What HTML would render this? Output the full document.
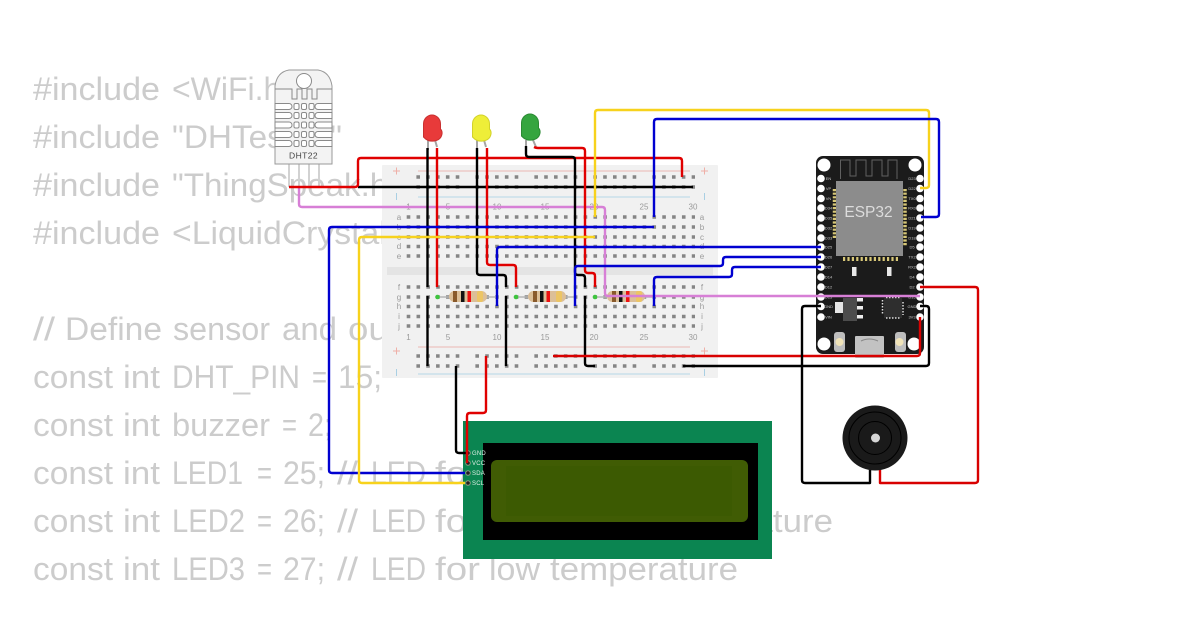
<!DOCTYPE html>
<html><head><meta charset="utf-8"><style>
html,body{margin:0;padding:0;background:#fff}
svg{display:block}
.c{font-family:"Liberation Sans",sans-serif;font-size:32px;fill:#cccccc}
.n{font-family:"Liberation Sans",sans-serif;font-size:8px;fill:#9a9a9a;text-anchor:middle}
.w{fill:none;stroke-width:2.4;stroke-linejoin:round}
.p{font-family:"Liberation Sans",sans-serif;font-size:4px;fill:#c8c8c8;text-anchor:middle}
</style></head><body>
<svg width="1200" height="630" viewBox="0 0 1200 630" xmlns="http://www.w3.org/2000/svg">
<rect width="1200" height="630" fill="#fff"/>
<g class="c" lengthAdjust="spacingAndGlyphs">
<text class="c" x="33" y="100" textLength="127" lengthAdjust="spacingAndGlyphs">#include</text><text class="c" x="172" y="100" textLength="128" lengthAdjust="spacingAndGlyphs">&lt;WiFi.h&gt;</text>
<text class="c" x="33" y="148" textLength="127" lengthAdjust="spacingAndGlyphs">#include</text><text class="c" x="172" y="148" textLength="170" lengthAdjust="spacingAndGlyphs">"DHTesp.h"</text>
<text class="c" x="33" y="196" textLength="127" lengthAdjust="spacingAndGlyphs">#include</text><text class="c" x="172" y="196" textLength="228" lengthAdjust="spacingAndGlyphs">"ThingSpeak.h"</text>
<text class="c" x="33" y="244" textLength="127" lengthAdjust="spacingAndGlyphs">#include</text><text class="c" x="172" y="244" textLength="334" lengthAdjust="spacingAndGlyphs">&lt;LiquidCrystal_I2C.h&gt;</text>
<text class="c" x="33" y="340" textLength="22" lengthAdjust="spacingAndGlyphs">//</text><text class="c" x="65" y="340" textLength="97" lengthAdjust="spacingAndGlyphs">Define</text><text class="c" x="173" y="340" textLength="97" lengthAdjust="spacingAndGlyphs">sensor</text><text class="c" x="282" y="340" textLength="55" lengthAdjust="spacingAndGlyphs">and</text><text class="c" x="348" y="340" textLength="102" lengthAdjust="spacingAndGlyphs">output</text><text class="c" x="460" y="340" textLength="65" lengthAdjust="spacingAndGlyphs">pins</text>
<text class="c" x="33" y="388" textLength="80" lengthAdjust="spacingAndGlyphs">const</text><text class="c" x="123" y="388" textLength="37" lengthAdjust="spacingAndGlyphs">int</text><text class="c" x="172" y="388" textLength="128" lengthAdjust="spacingAndGlyphs">DHT_PIN</text><text class="c" x="312" y="388" textLength="15" lengthAdjust="spacingAndGlyphs">=</text><text class="c" x="338" y="388" textLength="44" lengthAdjust="spacingAndGlyphs">15;</text>
<text class="c" x="33" y="436" textLength="80" lengthAdjust="spacingAndGlyphs">const</text><text class="c" x="123" y="436" textLength="37" lengthAdjust="spacingAndGlyphs">int</text><text class="c" x="172" y="436" textLength="98" lengthAdjust="spacingAndGlyphs">buzzer</text><text class="c" x="282" y="436" textLength="15" lengthAdjust="spacingAndGlyphs">=</text><text class="c" x="308" y="436" textLength="24" lengthAdjust="spacingAndGlyphs">2;</text>
<text class="c" x="33" y="484" textLength="80" lengthAdjust="spacingAndGlyphs">const</text><text class="c" x="123" y="484" textLength="37" lengthAdjust="spacingAndGlyphs">int</text><text class="c" x="172" y="484" textLength="71" lengthAdjust="spacingAndGlyphs">LED1</text><text class="c" x="257" y="484" textLength="15" lengthAdjust="spacingAndGlyphs">=</text><text class="c" x="283" y="484" textLength="42" lengthAdjust="spacingAndGlyphs">25;</text><text class="c" x="337" y="484" textLength="21" lengthAdjust="spacingAndGlyphs">//</text><text class="c" x="371" y="484" textLength="55" lengthAdjust="spacingAndGlyphs">LED</text><text class="c" x="435" y="484" textLength="45" lengthAdjust="spacingAndGlyphs">for</text><text class="c" x="489" y="484" textLength="60" lengthAdjust="spacingAndGlyphs">high</text><text class="c" x="558" y="484" textLength="188" lengthAdjust="spacingAndGlyphs">temperature</text>
<text class="c" x="33" y="532" textLength="80" lengthAdjust="spacingAndGlyphs">const</text><text class="c" x="123" y="532" textLength="37" lengthAdjust="spacingAndGlyphs">int</text><text class="c" x="172" y="532" textLength="73" lengthAdjust="spacingAndGlyphs">LED2</text><text class="c" x="257" y="532" textLength="15" lengthAdjust="spacingAndGlyphs">=</text><text class="c" x="283" y="532" textLength="42" lengthAdjust="spacingAndGlyphs">26;</text><text class="c" x="337" y="532" textLength="21" lengthAdjust="spacingAndGlyphs">//</text><text class="c" x="371" y="532" textLength="55" lengthAdjust="spacingAndGlyphs">LED</text><text class="c" x="435" y="532" textLength="45" lengthAdjust="spacingAndGlyphs">for</text><text class="c" x="489" y="532" textLength="146" lengthAdjust="spacingAndGlyphs">medium</text><text class="c" x="645" y="532" textLength="188" lengthAdjust="spacingAndGlyphs">temperature</text>
<text class="c" x="33" y="580" textLength="80" lengthAdjust="spacingAndGlyphs">const</text><text class="c" x="123" y="580" textLength="37" lengthAdjust="spacingAndGlyphs">int</text><text class="c" x="172" y="580" textLength="73" lengthAdjust="spacingAndGlyphs">LED3</text><text class="c" x="257" y="580" textLength="15" lengthAdjust="spacingAndGlyphs">=</text><text class="c" x="283" y="580" textLength="42" lengthAdjust="spacingAndGlyphs">27;</text><text class="c" x="337" y="580" textLength="21" lengthAdjust="spacingAndGlyphs">//</text><text class="c" x="371" y="580" textLength="55" lengthAdjust="spacingAndGlyphs">LED</text><text class="c" x="435" y="580" textLength="45" lengthAdjust="spacingAndGlyphs">for</text><text class="c" x="489" y="580" textLength="51" lengthAdjust="spacingAndGlyphs">low</text><text class="c" x="550" y="580" textLength="188" lengthAdjust="spacingAndGlyphs">temperature</text>
</g>

<!-- breadboard -->
<rect x="382" y="165" width="336" height="213" fill="#f1f1f1" rx="1"/>
<rect x="387" y="267" width="326" height="8" fill="#e4e4e4"/>
<g stroke="#858585" stroke-width="3.600" fill="none">
<g stroke-dasharray="3.600 6.230">
<path d="M406.700 217H695M406.700 227H695M406.700 237H695M406.700 246.500H695M406.700 256H695M406.700 287H695M406.700 297H695M406.700 306.500H695M406.700 316.500H695M406.700 326H695"/>
</g>
<g stroke-dasharray="3.600 6.230 3.600 6.230 3.600 6.230 3.600 6.230 3.600 16.060">
<path d="M416.400 177H695M416.400 187H695M416.400 356H695M416.400 366H695"/>
</g>
</g>
<g stroke-width="1" fill="none">
<path d="M418 171H690M418 347H690" stroke="#eab8b4"/>
<path d="M418 197H690M418 374H690" stroke="#b5d6e6"/>
<path d="M393 171h7M396.500 167.500v7M393 351h7M396.500 347.500v7M701 171h7M704.500 167.500v7M701 351h7M704.500 347.500v7" stroke="#efb0a8"/>
<path d="M396.500 193v7M704.500 193v7M396.500 369v7M704.500 369v7" stroke="#a9cfe3"/>
</g>
<g class="n">
<text class="n" x="408.500" y="209.500">1</text><text class="n" x="448" y="209.500">5</text><text class="n" x="497" y="209.500">10</text><text class="n" x="545" y="209.500">15</text><text class="n" x="594" y="209.500">20</text><text class="n" x="644" y="209.500">25</text><text class="n" x="693" y="209.500">30</text>
<text class="n" x="408.500" y="340">1</text><text class="n" x="448" y="340">5</text><text class="n" x="497" y="340">10</text><text class="n" x="545" y="340">15</text><text class="n" x="594" y="340">20</text><text class="n" x="644" y="340">25</text><text class="n" x="693" y="340">30</text>
<text class="n" x="399" y="220">a</text><text class="n" x="399" y="230">b</text><text class="n" x="399" y="240">c</text><text class="n" x="399" y="249">d</text><text class="n" x="399" y="259">e</text>
<text class="n" x="399" y="290">f</text><text class="n" x="399" y="300">g</text><text class="n" x="399" y="309">h</text><text class="n" x="399" y="319">i</text><text class="n" x="399" y="329">j</text>
<text class="n" x="702" y="220">a</text><text class="n" x="702" y="230">b</text><text class="n" x="702" y="240">c</text><text class="n" x="702" y="249">d</text><text class="n" x="702" y="259">e</text>
<text class="n" x="702" y="290">f</text><text class="n" x="702" y="300">g</text><text class="n" x="702" y="309">h</text><text class="n" x="702" y="319">i</text><text class="n" x="702" y="329">j</text>
</g>

<!-- resistors -->
<g>
<path d="M437 297H497M516 297H575M595 297H654" stroke="#b5b5b5" stroke-width="1.500"/>
<g fill="#dcbf98">
<rect x="449" y="291" width="38" height="11" rx="5.500"/><rect x="528" y="291" width="38" height="11" rx="5.500"/><rect x="607" y="291" width="38" height="11" rx="5.500"/>
</g>
<g fill="#8a5a2b"><rect x="453" y="291" width="4" height="11"/><rect x="533" y="291" width="4" height="11"/><rect x="612" y="291" width="4" height="11"/></g>
<g fill="#111"><rect x="461" y="291" width="3.500" height="11"/><rect x="540" y="291" width="3.500" height="11"/><rect x="619" y="291" width="3.500" height="11"/></g>
<g fill="#e11"><rect x="467.500" y="291" width="3.500" height="11"/><rect x="546.500" y="291" width="3.500" height="11"/><rect x="626" y="291" width="3.500" height="11"/></g>
<g fill="#ecc564"><rect x="477" y="291" width="6" height="11" rx="2"/><rect x="556" y="291" width="6" height="11" rx="2"/><rect x="636" y="291" width="6" height="11" rx="2"/></g>
<g fill="#3ec43e"><circle cx="437.500" cy="297" r="2.300"/><circle cx="516" cy="297" r="2.300"/><circle cx="595" cy="297" r="2.300"/></g>
</g>

<!-- LCD -->
<rect x="463" y="421" width="309" height="138" fill="#0b8551"/>
<rect x="483" y="443" width="275" height="97" fill="#000"/>
<rect x="491" y="460" width="257" height="62" rx="6" fill="#405c04"/>
<rect x="506" y="466" width="226" height="50" fill="#3c5a02"/>
<g fill="#222" stroke="#8d9c86" stroke-width="1">
<circle cx="468" cy="453" r="2.300"/><circle cx="468" cy="463" r="2.300"/><circle cx="468" cy="473" r="2.300"/><circle cx="468" cy="483" r="2.300"/>
</g>
<g font-family="Liberation Sans,sans-serif" font-size="6" fill="#dfeee5" letter-spacing=".2">
<text x="472" y="455">GND</text><text x="472" y="465">VCC</text><text x="472" y="475">SDA</text><text x="472" y="485">SCL</text>
</g>

<!-- ESP32 -->
<rect x="816" y="156" width="108" height="198" rx="7" fill="#1b1b1b"/>
<g fill="#fff">
<circle cx="824" cy="165" r="6.500"/><circle cx="915" cy="165" r="6.500"/><circle cx="824" cy="344" r="6.500"/><circle cx="914" cy="344" r="6.500"/>
</g>
<path d="M840.500 179V160H850V176H856V160H866V176H872V160H882V176H888V160H897V179" fill="none" stroke="#606060" stroke-width="1"/>
<g stroke="#d8c878" fill="none">
<path d="M834.500 189V238M905 189V246" stroke-width="3.500" stroke-dasharray="2.200 1.400"/>
<path d="M843 259H898" stroke-width="4" stroke-dasharray="2.200 2.200"/>
</g>
<rect x="836" y="181" width="67" height="75" fill="#8c8c8c"/>
<text x="868.500" y="217" font-family="Liberation Sans,sans-serif" font-size="15.500" fill="#dcdcdc" text-anchor="middle">ESP32</text>
<g fill="#e8e8e8"><rect x="852" y="267" width="4.500" height="9"/><rect x="887" y="267" width="4.500" height="9"/></g>
<rect x="835" y="302" width="8" height="11" fill="#e6e6e6"/>
<rect x="843" y="298" width="14" height="23" fill="#4c4c4c" />
<g fill="#eee"><rect x="857" y="298" width="6" height="3.500"/><rect x="857" y="306" width="6" height="3.500"/><rect x="857" y="315" width="6" height="3.500"/></g>
<rect x="884" y="298" width="18" height="20" fill="#2e2e2e"/>
<path d="M886 297.500H901M886 318H901M903 302V315M882.500 300V314" stroke="#ddd" stroke-width="1.500" stroke-dasharray="1.500 1.500" fill="none"/>
<rect x="855" y="336" width="29" height="22" rx="1" fill="#c2c2c2"/>
<path d="M861 341q8-4 17 0" stroke="#888" fill="none"/>
<g>
<rect x="834" y="332" width="11" height="20" rx="3" fill="#bdbdbd"/><circle cx="839.500" cy="342" r="4" fill="#f0e3b8"/>
<rect x="895" y="332" width="11" height="20" rx="3" fill="#bdbdbd"/><circle cx="899.500" cy="342" r="4" fill="#f0e3b8"/>
</g>
<g fill="#fff">
<circle cx="821" cy="178.500" r="3.800"/><circle cx="821" cy="188.500" r="3.800"/><circle cx="821" cy="198.500" r="3.800"/><circle cx="821" cy="208" r="3.800"/><circle cx="821" cy="218" r="3.800"/><circle cx="821" cy="228" r="3.800"/><circle cx="821" cy="238" r="3.800"/><circle cx="821" cy="247" r="3.800"/><circle cx="821" cy="257" r="3.800"/><circle cx="821" cy="267" r="3.800"/><circle cx="821" cy="277" r="3.800"/><circle cx="821" cy="287" r="3.800"/><circle cx="821" cy="297" r="3.800"/><circle cx="821" cy="306.500" r="3.800"/><circle cx="821" cy="317" r="3.800"/>
<circle cx="920" cy="178.500" r="3.800"/><circle cx="920" cy="188.500" r="3.800"/><circle cx="920" cy="198.500" r="3.800"/><circle cx="920" cy="208" r="3.800"/><circle cx="920" cy="218" r="3.800"/><circle cx="920" cy="228" r="3.800"/><circle cx="920" cy="238" r="3.800"/><circle cx="920" cy="247" r="3.800"/><circle cx="920" cy="257" r="3.800"/><circle cx="920" cy="267" r="3.800"/><circle cx="920" cy="277" r="3.800"/><circle cx="920" cy="287" r="3.800"/><circle cx="920" cy="297" r="3.800"/><circle cx="920" cy="306.500" r="3.800"/><circle cx="920" cy="317" r="3.800"/>
</g>
<g class="p">
<text class="p" x="828.500" y="180">EN</text><text class="p" x="828.500" y="190">VP</text><text class="p" x="828.500" y="200">VN</text><text class="p" x="828.500" y="209.500">D34</text><text class="p" x="828.500" y="219.500">D35</text><text class="p" x="828.500" y="229.500">D32</text><text class="p" x="828.500" y="239.500">D33</text><text class="p" x="828.500" y="248.500">D25</text><text class="p" x="828.500" y="258.500">D26</text><text class="p" x="828.500" y="268.500">D27</text><text class="p" x="828.500" y="278.500">D14</text><text class="p" x="828.500" y="288.500">D12</text><text class="p" x="828.500" y="298.500">D13</text><text class="p" x="828.500" y="308">GND</text><text class="p" x="828.500" y="318.500">VIN</text>
<text class="p" x="912" y="180">D23</text><text class="p" x="912" y="190">D22</text><text class="p" x="912" y="200">TX0</text><text class="p" x="912" y="209.500">RX0</text><text class="p" x="912" y="219.500">D21</text><text class="p" x="912" y="229.500">D19</text><text class="p" x="912" y="239.500">D18</text><text class="p" x="912" y="248.500">D5</text><text class="p" x="912" y="258.500">TX2</text><text class="p" x="912" y="268.500">RX2</text><text class="p" x="912" y="278.500">D4</text><text class="p" x="912" y="288.500">D2</text><text class="p" x="912" y="298.500">D15</text><text class="p" x="912" y="308">GND</text><text class="p" x="912" y="318.500">3V3</text>
</g>

<!-- DHT22 -->
<path d="M289 164V187M299 164V187M309 164V187M319 164V187" stroke="#d2d2d2" stroke-width="2" fill="none"/>
<path d="M275 164V86Q277 72 289 70H318Q330 72 332 86V164Z" fill="#f3f3f3" stroke="#9a9a9a" stroke-width="1"/>
<path d="M275 89H292V99H297V89H302V99H307V89H312V99H317V89H332" fill="none" stroke="#8a8a8a" stroke-width="1"/>
<circle cx="304" cy="81" r="7.500" fill="#fff" stroke="#8a8a8a"/>
<g fill="#fff" stroke="#8a8a8a" stroke-width="1">
<path d="M275 103.500H289a3 3 0 0 1 0 6H275ZM275 112.500H289a3 3 0 0 1 0 6H275ZM275 122H289a3 3 0 0 1 0 6H275ZM275 131.500H289a3 3 0 0 1 0 6H275ZM275 140.500H289a3 3 0 0 1 0 6H275Z"/>
<path d="M332 103.500H318a3 3 0 0 0 0 6H332ZM332 112.500H318a3 3 0 0 0 0 6H332ZM332 122H318a3 3 0 0 0 0 6H332ZM332 131.500H318a3 3 0 0 0 0 6H332ZM332 140.500H318a3 3 0 0 0 0 6H332Z"/>
<rect x="294" y="103.500" width="5" height="6" rx="1.500"/><rect x="301.500" y="103.500" width="5" height="6" rx="1.500"/><rect x="309" y="103.500" width="5" height="6" rx="1.500"/>
<rect x="294" y="112.500" width="5" height="6" rx="1.500"/><rect x="301.500" y="112.500" width="5" height="6" rx="1.500"/><rect x="309" y="112.500" width="5" height="6" rx="1.500"/>
<rect x="294" y="122" width="5" height="6" rx="1.500"/><rect x="301.500" y="122" width="5" height="6" rx="1.500"/><rect x="309" y="122" width="5" height="6" rx="1.500"/>
<rect x="294" y="131.500" width="5" height="6" rx="1.500"/><rect x="301.500" y="131.500" width="5" height="6" rx="1.500"/><rect x="309" y="131.500" width="5" height="6" rx="1.500"/>
<rect x="294" y="140.500" width="5" height="6" rx="1.500"/><rect x="301.500" y="140.500" width="5" height="6" rx="1.500"/><rect x="309" y="140.500" width="5" height="6" rx="1.500"/>
</g>
<text x="303.500" y="158.500" font-family="Liberation Sans,sans-serif" font-size="8.500" fill="#444" text-anchor="middle" letter-spacing=".4">DHT22</text>

<!-- LEDs -->
<g>
<path d="M428 140V150M435 140L437 147M477 140V150M484 140L486 147M526 140V147M533 140L536 147" stroke="#a5a5a5" stroke-width="2" fill="none"/>
<path d="M423.500 137V124a8.500 9 0 0 1 17 0V129q2 2 1.500 5 -1 6-8 7 -6 1-10.500-4Z" fill="#e83a3a" stroke="#c93030" stroke-width="1"/>
<path d="M472.500 137V124a8.500 9 0 0 1 17 0V129q2 2 1.500 5 -1 6-8 7 -6 1-10.500-4Z" fill="#eeee38" stroke="#d2d22a" stroke-width="1"/>
<path d="M521.500 136V123a8.500 9 0 0 1 17 0V128q2 2 1.500 5 -1 6-8 7 -6 1-10.500-4Z" fill="#35a53f" stroke="#2a8a33" stroke-width="1"/>
</g>

<!-- Buzzer -->
<circle cx="875" cy="438" r="32.500" fill="#1a1a1a"/>
<g fill="none" stroke="#000" stroke-width="1"><circle cx="875" cy="438" r="26"/><circle cx="875" cy="438" r="16.500"/></g>
<circle cx="875.500" cy="438" r="4.500" fill="#d6d6d6"/>

<!-- Wires -->
<g class="w" fill="none"><path class="w" stroke="#d77fd6" d="M299 187V204q0 3 3 3H602q3 0 3 3V293q0 3 3 3H920"/></g>
<g class="w">
<path class="w" stroke="#000" d="M358 187H693"/>
<path class="w" stroke="#e00000" d="M289 187H355q3 0 3-3V161q0-3 3-3H679q3 0 3 3V177"/>
<path class="w" stroke="#000" d="M427.500 148V287M427.500 296V366"/>
<path class="w" stroke="#e00000" d="M437 148V287"/>
<path class="w" stroke="#000" d="M477 148V272q0 3 3 3H503q3 0 3 3V287M506 296V366"/>
<path class="w" stroke="#e00000" d="M487 148V262q0 3 3 3H513q3 0 3 3V287"/>
<path class="w" stroke="#000" d="M526 146V154q0 3 3 3H572q3 0 3 3V272q0 3 3 3H582q3 0 3 3V287M585 296V363q0 3 3 3H595"/>
<path class="w" stroke="#e00000" d="M534 147Q536 148 538 148H582q3 0 3 3V270q0 3 3 3H592q3 0 3 3V287"/>
<path class="w" stroke="#f7d21c" d="M595 217V113q0-3 3-3H926q3 0 3 3V185q0 3-3 3H920"/>
<path class="w" stroke="#0000d0" d="M654 217V122q0-3 3-3H936q3 0 3 3V214q0 3-3 3H921"/>
<path class="w" stroke="#0000d0" d="M465 473H332q-3 0-3-3V230q0-3 3-3H654"/>
<path class="w" stroke="#f7d21c" d="M465 483H362q-3 0-3-3V240q0-3 3-3H595"/>
<path class="w" stroke="#0000d0" d="M497 306V250q0-3 3-3H821"/>
<path class="w" stroke="#0000d0" d="M575 306V269q0-3 3-3H720q3 0 3-3V260q0-3 3-3H821"/>
<path class="w" stroke="#0000d0" d="M654 306V280q0-3 3-3H729q3 0 3-3V270q0-3 3-3H821"/>
<path class="w" stroke="#d80000" d="M553 356H917q3 0 3-3V317"/>
<path class="w" stroke="#000" d="M683 366H926q3 0 3-3V309q0-3-3-3H920"/>
<path class="w" stroke="#000" d="M456 366V450q0 3 3 3H467"/>
<path class="w" stroke="#e00000" d="M486 356V410q0 3-3 3H470q-3 0-3 3V463"/>
<path class="w" stroke="#000" d="M870 470V483H805q-3 0-3-3V309q0-3 3-3H821"/>
<path class="w" stroke="#d80000" d="M880 470V483H975q3 0 3-3V290q0-3-3-3H920"/>
</g>
</svg>
</body></html>
